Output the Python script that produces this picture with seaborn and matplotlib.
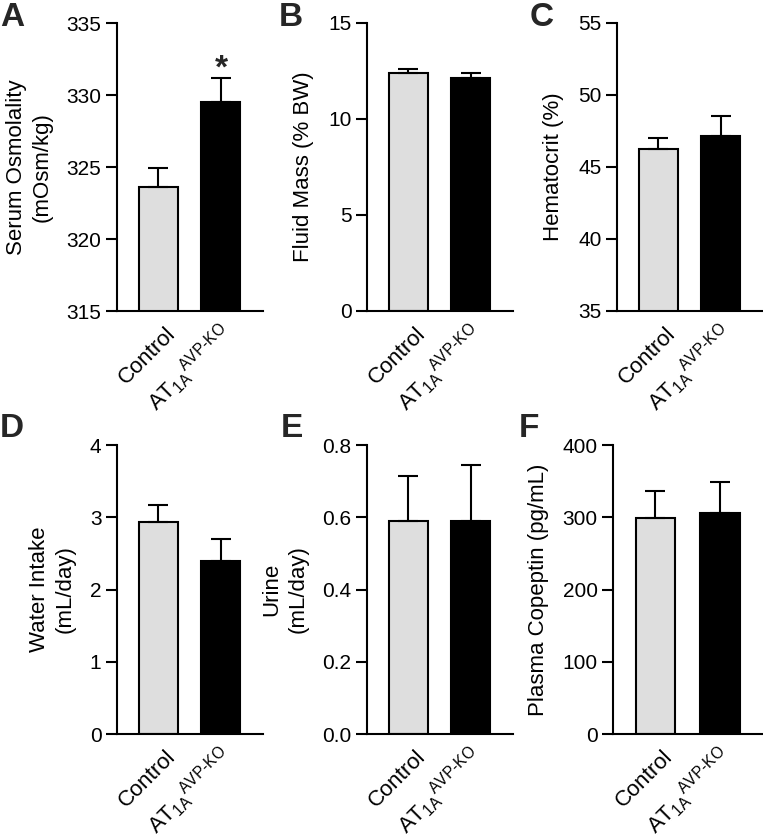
import matplotlib
matplotlib.use("Agg")
import matplotlib.pyplot as plt
import matplotlib.transforms as mtransforms
import seaborn as sns

# ---- data ----
groups = ["Control", "KO"]
group_labels = ["Control", "A$\\mathrm{T}_{\\mathrm{1A}}{}^{\\mathrm{AVP\u2010KO}}$"]
bar_colors = ["#dedede", "#000000"]

osm_mean = [323.6, 329.5]
osm_sem = [1.35, 1.65]
fluid_mean = [12.41, 12.15]
fluid_sem = [0.18, 0.23]
hct_mean = [46.25, 47.17]
hct_sem = [0.78, 1.40]
water_mean = [2.94, 2.40]
water_sem = [0.23, 0.30]
urine_mean = [0.59, 0.59]
urine_sem = [0.124, 0.155]
cop_mean = [299.5, 306.3]
cop_sem = [37.0, 42.5]

sns.set_theme(style="ticks")
plt.rcParams["font.family"] = ["Liberation Sans", "DejaVu Sans"]
plt.rcParams["mathtext.fontset"] = "custom"
plt.rcParams["mathtext.rm"] = "Liberation Sans"
plt.rcParams["mathtext.it"] = "Liberation Sans:italic"
plt.rcParams["mathtext.bf"] = "Liberation Sans:bold"

fig = plt.figure(figsize=(7.63, 8.38), dpi=100)

W, H = 763.0, 838.0
TICK_FS = 15
LABEL_FS = 16
XLAB_FS = 16


def add_ax(left_px, right_px, top_px, bottom_px):
    return fig.add_axes([left_px / W, 1 - bottom_px / H,
                         (right_px - left_px) / W, (bottom_px - top_px) / H])


panels = [
    # (mean, sem, ylim, ticks, ylabel, fmt, axes box, letter, letter pos)
    (osm_mean, osm_sem, (315, 335), [315, 320, 325, 330, 335],
     "Serum Osmolality\n(mOsm/kg)", "{:.0f}", (116.7, 263, 23, 311), "A", (0, 2)),
    (fluid_mean, fluid_sem, (0, 15), [0, 5, 10, 15],
     "Fluid Mass (% BW)", "{:.0f}", (366.7, 513, 23, 311), "B", (279, 2)),
    (hct_mean, hct_sem, (35, 55), [35, 40, 45, 50, 55],
     "Hematocrit (%)", "{:.0f}", (616.7, 763, 23, 311), "C", (530, 2)),
    (water_mean, water_sem, (0, 4), [0, 1, 2, 3, 4],
     "Water Intake\n(mL/day)", "{:.0f}", (116.7, 263, 445, 734), "D", (0, 413)),
    (urine_mean, urine_sem, (0, 0.8), [0.0, 0.2, 0.4, 0.6, 0.8],
     "Urine\n(mL/day)", "{:.1f}", (366.7, 513, 445, 734), "E", (281, 413)),
    (cop_mean, cop_sem, (0, 400), [0, 100, 200, 300, 400],
     "Plasma Copeptin (pg/mL)", "{:.0f}", (613, 763, 445, 734), "F", (519, 413)),
]

# pixel nudges of the rotated group labels (right, down)
label_nudge = [(7, 12), (-3, 8)]

for mean, sem, ylim, ticks, ylabel, fmt, box, letter, lpos in panels:
    ax = add_ax(*box)
    sns.barplot(x=groups, y=mean, hue=groups, palette=bar_colors,
                edgecolor="black", linewidth=1.5, width=0.62,
                legend=False, ax=ax)
    ax.errorbar([0, 1], mean, yerr=[[0, 0], sem], fmt="none",
                ecolor="black", elinewidth=1.5, capsize=7, capthick=1.5,
                zorder=1)
    ax.set_xlim(-0.66, 1.67)
    ax.set_ylim(*ylim)
    ax.set_yticks(ticks)
    ax.set_yticklabels([fmt.format(t) for t in ticks])
    ax.set_xticks([0, 1])
    ax.tick_params(axis="y", length=8, width=1.5, labelsize=TICK_FS, pad=3,
                   color="black", labelcolor="black")
    ax.tick_params(axis="x", length=0, labelsize=XLAB_FS, pad=0,
                   labelcolor="black")
    ax.set_xticklabels(group_labels, rotation=45, ha="right", va="top",
                       rotation_mode="anchor")
    for lab, (dx, dy) in zip(ax.get_xticklabels(), label_nudge):
        lab.set_transform(lab.get_transform() + mtransforms.ScaledTranslation(
            dx / 100, -dy / 100, fig.dpi_scale_trans))
    ax.set_ylabel(ylabel, fontsize=LABEL_FS, labelpad=10, color="black",
                  linespacing=1.3)
    ax.set_xlabel("")
    sns.despine(ax=ax)
    for side in ["left", "bottom"]:
        ax.spines[side].set_linewidth(1.5)
        ax.spines[side].set_color("black")
    ax.patch.set_alpha(0)
    fig.text(lpos[0] / W, 1 - lpos[1] / H, letter, fontsize=24,
             fontweight="bold", ha="left", va="top")
    if letter == "A":
        # significance star just above the KO error bar
        ax.annotate("*", xy=(1, mean[1] + sem[1]), xytext=(0, 7),
                    textcoords="offset points", ha="center", va="center",
                    fontsize=24, fontweight="bold")

fig.savefig("out.png", dpi=100)
